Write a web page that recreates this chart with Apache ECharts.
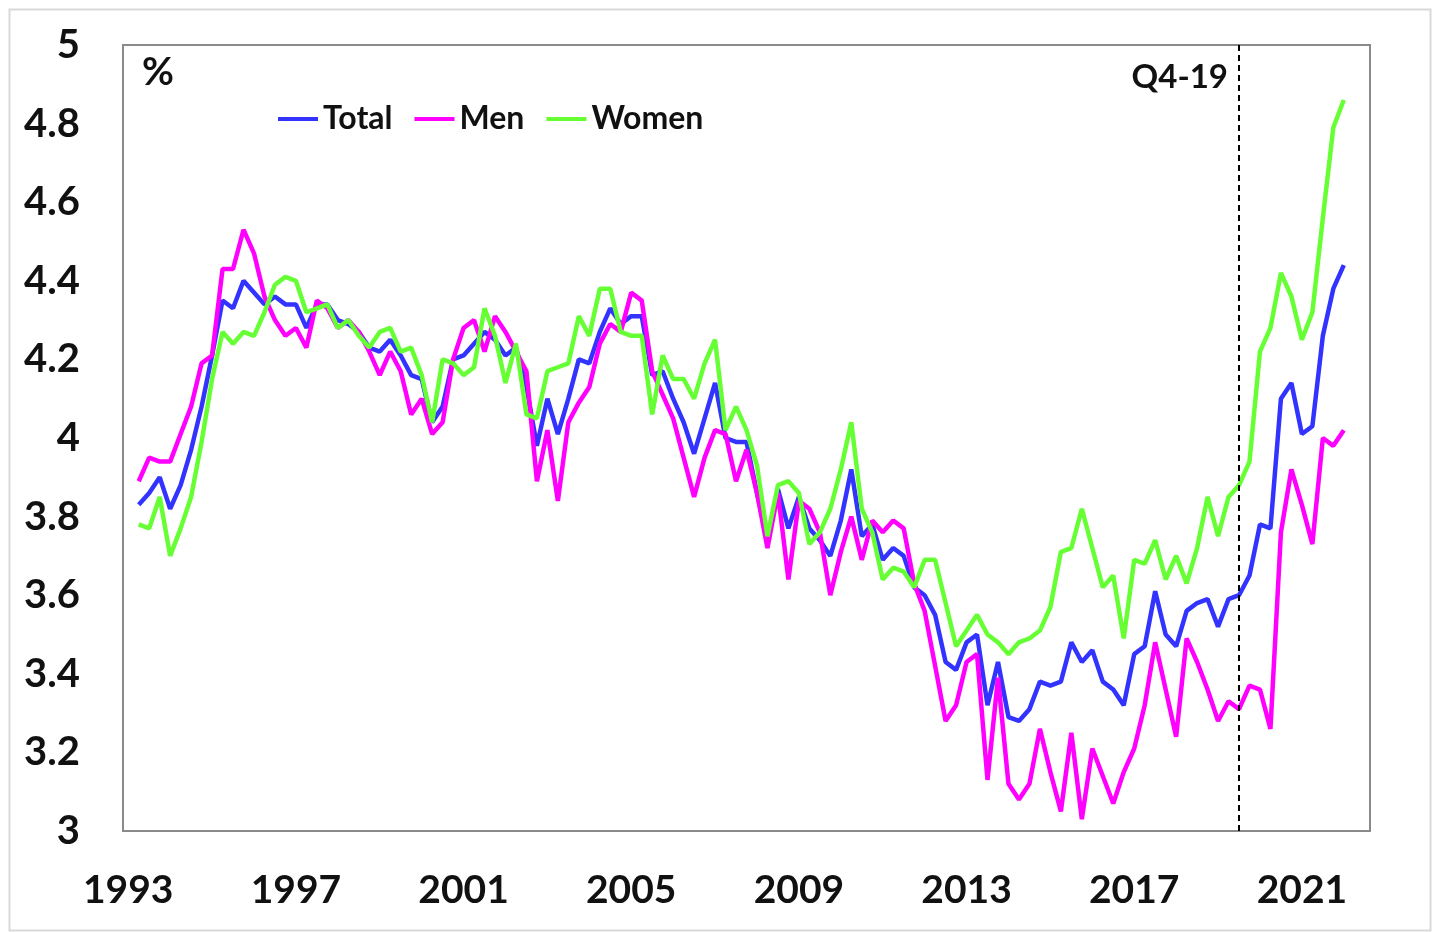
<!DOCTYPE html>
<html>
<head>
<meta charset="utf-8">
<script src="https://cdn.jsdelivr.net/npm/echarts@6/dist/echarts.min.js"></script>
<style>
  html, body { margin: 0; padding: 0; background: #ffffff; }
  #chart { width: 1434px; height: 932px; }
</style>
</head>
<body>
<div id="chart"></div>
<script>
// Quarterly values, 1993Q3 .. 2022Q2 (%)
const total = [3.83,3.86,3.90,3.82,3.88,3.97,4.08,4.21,4.35,4.33,
  4.40,4.37,4.34,4.36,4.34,4.34,4.28,4.34,4.34,4.30,
  4.29,4.27,4.23,4.22,4.25,4.21,4.16,4.15,4.04,4.08,
  4.20,4.21,4.24,4.27,4.25,4.21,4.23,4.13,3.98,4.10,
  4.01,4.10,4.20,4.19,4.27,4.33,4.29,4.31,4.31,4.16,
  4.17,4.10,4.04,3.96,4.05,4.14,4.00,3.99,3.99,3.86,
  3.74,3.87,3.77,3.85,3.77,3.74,3.70,3.79,3.92,3.75,
  3.78,3.69,3.72,3.70,3.62,3.60,3.55,3.43,3.41,3.48,
  3.50,3.32,3.43,3.29,3.28,3.31,3.38,3.37,3.38,3.48,
  3.43,3.46,3.38,3.36,3.32,3.45,3.47,3.61,3.50,3.47,
  3.56,3.58,3.59,3.52,3.59,3.60,3.65,3.78,3.77,4.10,
  4.14,4.01,4.03,4.26,4.38,4.44];
const men = [3.89,3.95,3.94,3.94,4.01,4.08,4.19,4.21,4.43,4.43,
  4.53,4.47,4.36,4.30,4.26,4.28,4.23,4.35,4.33,4.28,
  4.30,4.27,4.22,4.16,4.22,4.17,4.06,4.10,4.01,4.04,
  4.20,4.28,4.30,4.22,4.31,4.27,4.22,4.17,3.89,4.02,
  3.84,4.04,4.09,4.13,4.24,4.29,4.27,4.37,4.35,4.17,
  4.11,4.05,3.95,3.85,3.95,4.02,4.01,3.89,3.97,3.86,
  3.72,3.86,3.64,3.84,3.82,3.76,3.60,3.71,3.80,3.69,
  3.79,3.76,3.79,3.77,3.63,3.56,3.42,3.28,3.32,3.43,
  3.45,3.13,3.39,3.12,3.08,3.12,3.26,3.15,3.05,3.25,
  3.03,3.21,3.14,3.07,3.15,3.21,3.32,3.48,3.36,3.24,
  3.49,3.43,3.36,3.28,3.33,3.31,3.37,3.36,3.26,3.76,
  3.92,3.83,3.73,4.00,3.98,4.02];
const women = [3.78,3.77,3.85,3.70,3.77,3.85,3.99,4.15,4.27,4.24,
  4.27,4.26,4.32,4.39,4.41,4.40,4.32,4.33,4.34,4.28,
  4.30,4.26,4.23,4.27,4.28,4.22,4.23,4.16,4.04,4.20,
  4.19,4.16,4.18,4.33,4.26,4.14,4.24,4.06,4.05,4.17,
  4.18,4.19,4.31,4.26,4.38,4.38,4.27,4.26,4.26,4.06,
  4.21,4.15,4.15,4.10,4.19,4.25,4.02,4.08,4.02,3.93,
  3.75,3.88,3.89,3.86,3.73,3.76,3.82,3.92,4.04,3.82,
  3.76,3.64,3.67,3.66,3.62,3.69,3.69,3.58,3.47,3.51,
  3.55,3.50,3.48,3.45,3.48,3.49,3.51,3.57,3.71,3.72,
  3.82,3.72,3.62,3.65,3.49,3.69,3.68,3.74,3.64,3.70,
  3.63,3.72,3.85,3.75,3.85,3.88,3.94,4.22,4.28,4.42,
  4.36,4.25,4.32,4.56,4.79,4.86];

// Tick labels shown every 16 quarters (each at Q2 of the year)
const yearLabels = ['1993','1997','2001','2005','2009','2013','2017','2021'];
const seriesNames = ['Total','Men','Women'];
const markerQuarter = '2019Q4';
const markerLabel = 'Q4-19';

// Category axis: 1993Q2 .. 2022Q4 (first and last quarters are empty)
const categories = [];
for (let y = 1993; y <= 2022; y++) {
  for (let q = 1; q <= 4; q++) {
    if (y === 1993 && q < 2) continue;
    categories.push(y + 'Q' + q);
  }
}
const startIndex = categories.indexOf('1993Q3');
function pad(arr) {
  const out = new Array(categories.length).fill(null);
  arr.forEach((v, i) => { out[startIndex + i] = v; });
  return out;
}

const FONT = 'Lato';
const chart = echarts.init(document.getElementById('chart'), null, { renderer: 'canvas' });
chart.setOption({
  animation: false,
  backgroundColor: '#ffffff',
  grid: {
    left: 123, right: 64, top: 45, bottom: 101,
    show: true, borderColor: '#8a8a8a', borderWidth: 2, backgroundColor: 'transparent'
  },
  legend: {
    data: seriesNames,
    left: 273, top: 98,
    icon: 'rect', itemWidth: 40, itemHeight: 4, itemGap: 22,
    textStyle: { fontFamily: FONT, fontWeight: 'bold', fontSize: 32, color: '#111' }
  },
  xAxis: {
    type: 'category',
    data: categories,
    boundaryGap: true,
    axisLine: { show: false },
    axisTick: { show: false },
    splitLine: { show: false },
    axisLabel: {
      interval: (idx) => idx % 16 === 0,
      formatter: (val, idx) => (idx % 16 === 0 ? (yearLabels[idx / 16] || '') : ''),
      margin: 40,
      fontFamily: FONT, fontWeight: 'bold', fontSize: 39, color: '#111'
    }
  },
  yAxis: {
    type: 'value',
    min: 3, max: 5, interval: 0.2,
    axisLine: { show: false },
    axisTick: { show: false },
    splitLine: { show: false },
    axisLabel: {
      margin: 43,
      fontFamily: FONT, fontWeight: 'bold', fontSize: 40, color: '#111'
    }
  },
  series: [
    {
      name: seriesNames[0], type: 'line', data: pad(total), showSymbol: false, symbol: 'none',
      lineStyle: { color: '#3333ff', width: 4.5 }, itemStyle: { color: '#3333ff' },
      markLine: {
        silent: true, symbol: ['none', 'none'],
        label: { show: false },
        lineStyle: { color: '#000000', type: [6, 4], width: 2 },
        data: [{ xAxis: markerQuarter }]
      }
    },
    {
      name: seriesNames[1], type: 'line', data: pad(men), showSymbol: false, symbol: 'none',
      lineStyle: { color: '#ff00ff', width: 4.5 }, itemStyle: { color: '#ff00ff' }
    },
    {
      name: seriesNames[2], type: 'line', data: pad(women), showSymbol: false, symbol: 'none',
      lineStyle: { color: '#66ff33', width: 4.5 }, itemStyle: { color: '#66ff33' }
    }
  ],
  graphic: [
    {
      type: 'rect', left: 7, top: 7, z: -1, silent: true,
      shape: { width: 1421, height: 921 },
      style: { fill: 'none', stroke: '#d9d9d9', lineWidth: 2 }
    },
    {
      type: 'text', left: 142, top: 53,
      style: { text: '%', fontFamily: FONT, fontWeight: 'bold', fontSize: 39, fill: '#111' }
    },
    {
      type: 'text', right: 1434 - 1228, top: 61,
      style: { text: markerLabel, fontFamily: FONT, fontWeight: 'bold', fontSize: 33, fill: '#111', textAlign: 'right' }
    }
  ]
});
</script>
</body>
</html>
